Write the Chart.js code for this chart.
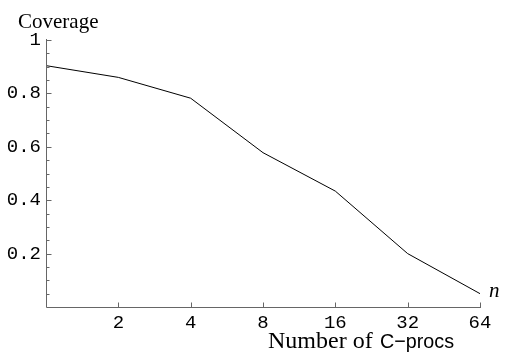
<!DOCTYPE html>
<html>
<head>
<meta charset="utf-8">
<script src="https://cdn.jsdelivr.net/npm/chart.js@4.4.0/dist/chart.umd.min.js"></script>
<style>
  html, body { margin: 0; padding: 0; background: #fff; }
  #wrap { width: 511px; height: 356px; }
</style>
</head>
<body>
<div id="wrap"><canvas id="grafik" width="511" height="356"></canvas></div>
<script>
// veriler
const procs = [1, 2, 4, 8, 16, 32, 64];
const coverage = [0.904, 0.86, 0.782, 0.578, 0.434, 0.2, 0.05];
const xTicks = [2, 4, 8, 16, 32, 64];
const yTicks = [0.2, 0.4, 0.6, 0.8, 1];
const yMinorTicks = [0.05, 0.1, 0.15, 0.25, 0.3, 0.35, 0.45, 0.5, 0.55, 0.65, 0.7, 0.75, 0.85, 0.9, 0.95];

const axisColor = "#666";

// eksenler, içe bakan tikler ve başlıklar
const eksenPlugin = {
  id: "eksen",
  afterDraw(chart) {
    const { ctx, chartArea: a, scales: { x, y } } = chart;
    ctx.save();
    ctx.strokeStyle = axisColor;
    ctx.lineWidth = 1;
    ctx.beginPath();
    const x0 = Math.round(a.left) + 0.5;
    const y0 = Math.round(a.bottom) + 0.5;
    ctx.moveTo(x0, Math.round(y.getPixelForValue(1)) - 1);
    ctx.lineTo(x0, y0);
    ctx.lineTo(Math.round(x.getPixelForValue(64)) + 1, y0);
    yTicks.forEach(v => {
      const p = Math.round(y.getPixelForValue(v)) + 0.5;
      ctx.moveTo(x0, p); ctx.lineTo(x0 + 5, p);
    });
    yMinorTicks.forEach(v => {
      const p = Math.round(y.getPixelForValue(v)) + 0.5;
      ctx.moveTo(x0, p); ctx.lineTo(x0 + 3, p);
    });
    xTicks.forEach(v => {
      const p = Math.round(x.getPixelForValue(v)) + 0.5;
      ctx.moveTo(p, y0); ctx.lineTo(p, y0 - 5);
    });
    ctx.stroke();

    ctx.fillStyle = "#000";
    ctx.textBaseline = "alphabetic";
    ctx.textAlign = "left";
    ctx.font = "21px 'Liberation Serif'";
    ctx.fillText("Coverage", 18, 28);

    ctx.font = "italic 21px 'Liberation Serif'";
    ctx.fillText("n", 489, 297);

    ctx.font = "24px 'Liberation Serif'";
    ctx.fillText("Number of", 268, 348);

    // sans kısmı biraz dar, yatayda sıkıştır
    ctx.font = "21px 'Liberation Sans'";
    const t2 = "C\u2212procs";
    const w2 = ctx.measureText(t2).width;
    ctx.translate(380, 348);
    ctx.scale(74 / w2, 1);
    ctx.fillText(t2, 0, 0);
    ctx.restore();
  }
};

new Chart(document.getElementById("grafik"), {
  type: "line",
  data: {
    datasets: [{
      data: procs.map((p, i) => ({ x: p, y: coverage[i] })),
      borderColor: "#000",
      borderWidth: 1,
      pointRadius: 0,
      tension: 0,
      fill: false
    }]
  },
  options: {
    responsive: false,
    animation: false,
    layout: { padding: { top: 40, right: 31, left: 0, bottom: 0 } },
    plugins: { legend: { display: false }, tooltip: { enabled: false } },
    scales: {
      x: {
        type: "logarithmic",
        min: 1,
        max: 64,
        grid: { display: false, drawTicks: false, tickLength: 0 },
        border: { display: false },
        afterBuildTicks: s => { s.ticks = xTicks.map(v => ({ value: v })); },
        afterFit: s => { s.height = 49; },
        ticks: {
          autoSkip: false,
          maxRotation: 0,
          padding: 5,
          color: "#000",
          font: { family: "'Liberation Mono'", size: 19 },
          callback: v => String(v)
        }
      },
      y: {
        min: 0,
        max: 1,
        grid: { display: false, drawTicks: false, tickLength: 0 },
        border: { display: false },
        afterBuildTicks: s => { s.ticks = yTicks.map(v => ({ value: v })); },
        afterFit: s => { s.width = 46; },
        ticks: {
          padding: 5,
          color: "#000",
          font: { family: "'Liberation Mono'", size: 19 },
          callback: v => (v === 1 ? "1" : v.toFixed(1))
        }
      }
    }
  },
  plugins: [eksenPlugin]
});
</script>
</body>
</html>
